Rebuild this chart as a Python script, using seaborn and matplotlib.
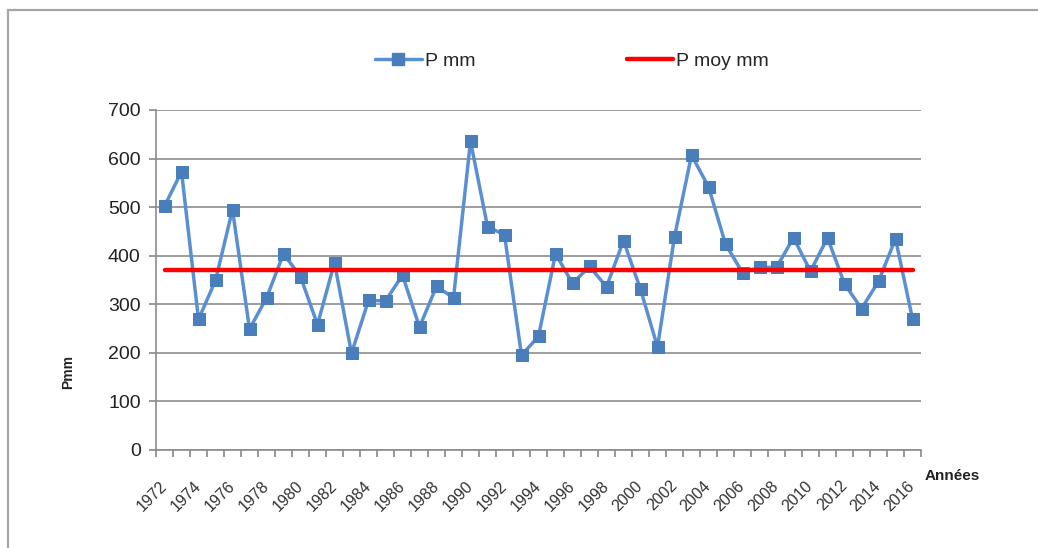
import matplotlib
matplotlib.use("Agg")
import matplotlib.pyplot as plt
import seaborn as sns
import numpy as np
import pandas as pd
from matplotlib.patches import Rectangle
from matplotlib.lines import Line2D

years = list(range(1972, 2017))
p_mm = [502, 573, 269, 349, 495, 249, 313, 404, 357, 258,
        386, 199, 308, 307, 360, 253, 337, 313, 636, 460,
        443, 195, 234, 404, 343, 378, 336, 431, 331, 212,
        439, 607, 542, 424, 365, 376, 376, 437, 368, 437,
        342, 291, 347, 435, 270]
p_moy = 371
tick_years = list(range(1972, 2017, 2))
y_ticks = [0, 100, 200, 300, 400, 500, 600, 700]

sns.set_theme(style="white")
plt.rcParams['font.family'] = ['Liberation Sans', 'DejaVu Sans']

df = pd.DataFrame({"Année": years, "P mm": p_mm, "P moy mm": [p_moy] * len(years)})

fig = plt.figure(figsize=(10.38, 5.48), dpi=100)
ax = fig.add_axes([156/1038, 1-450/548, (921-156)/1038, 340/548])

line_blue = "#5A8FD2"
mk_blue = "#4A7EBB"
sns.lineplot(data=df, x="Année", y="P mm", ax=ax, color=line_blue, lw=2.5,
             marker="s", markersize=8.5, markeredgecolor=mk_blue, markerfacecolor=mk_blue, zorder=3)
sns.lineplot(data=df, x="Année", y="P moy mm", ax=ax, color="#FF0000", lw=3.2, zorder=4)

ax.set_xlim(1971.5, 2016.5)
ax.set_ylim(0, 700)
ax.set_yticks(y_ticks)
ax.set_yticklabels([str(v) for v in y_ticks], fontsize=14, color="#222222")
ax.set_xticks(tick_years)
ax.set_xticklabels([str(y) for y in tick_years], fontsize=11.5, color="#333333",
                   rotation=45, ha="right", va="center", rotation_mode="anchor")
ax.set_xticks(np.arange(1971.5, 2017.0, 1.0), minor=True)
ax.tick_params(axis="x", which="major", length=0, pad=24)
ax.tick_params(axis="x", which="minor", length=5, width=1.2, color="#888888", direction="out", bottom=True)
ax.tick_params(axis="y", which="major", length=5, width=1.2, color="#888888", direction="out", left=True, pad=6)

ax.grid(axis="y", color="#8c8c8c", lw=1.2)
ax.grid(axis="x", visible=False)
for s in ["top", "right"]:
    ax.spines[s].set_visible(False)
for s in ["left", "bottom"]:
    ax.spines[s].set_color("#8c8c8c")
    ax.spines[s].set_linewidth(1.2)
ax.set_xlabel("")
ax.set_ylabel("")

fig.text(68/1038, 1-372/548, "Pmm", rotation=90, ha="center", va="center",
         fontsize=10, fontweight="bold", color="#222222")
fig.text(925/1038, 1-476/548, "Années", ha="left", va="center",
         fontsize=11, fontweight="bold", color="#222222")

handles = [Line2D([], [], color=line_blue, lw=2.5, marker="s", markersize=8.5,
                  markerfacecolor=mk_blue, markeredgecolor=mk_blue),
           Line2D([], [], color="#FF0000", lw=3.2)]
fig.legend(handles, ["P mm", "P moy mm"], loc="center", bbox_to_anchor=(572/1038, 1-61/548),
           ncol=2, frameon=False, fontsize=14, handlelength=2.4, handletextpad=0.15,
           columnspacing=7.8)

fig.patches.append(Rectangle((8/1038, -0.2), 1.2, 1.2 - 10/548, transform=fig.transFigure,
                             fill=False, edgecolor="#a6a6a6", lw=1.6))

fig.savefig("out.png", dpi=100)
